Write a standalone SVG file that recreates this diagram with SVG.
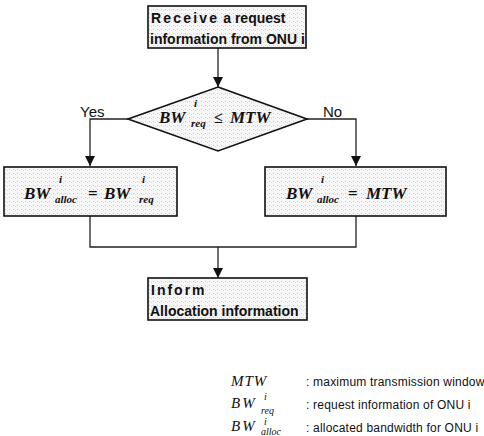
<svg xmlns="http://www.w3.org/2000/svg" width="484" height="436" viewBox="0 0 484 436">
<style>
.box{fill:url(#dots);stroke:#111;stroke-width:1.6}
.dia{fill:url(#dots);stroke:#111;stroke-width:1.6}
.line{fill:none;stroke:#222;stroke-width:1.3}
.sans{font-family:"Liberation Sans",Arial,sans-serif;fill:#111}
.math{font-family:"Liberation Serif","Times New Roman",serif;font-style:italic;font-weight:bold;fill:#111;font-size:17px}
.s{font-size:11px}
.op{font-style:normal}
.leg{font-family:"Liberation Serif","Times New Roman",serif;font-style:italic;fill:#111;font-size:15px}
.ls{font-size:10px;letter-spacing:0}
.ltxt{font-family:"Liberation Sans",Arial,sans-serif;font-size:12px;letter-spacing:0.2px;fill:#111}
</style>
<defs>
<pattern id="dots" width="4" height="4" patternUnits="userSpaceOnUse">
<rect width="4" height="4" fill="#f6f6f6"/>
<rect x="1" y="1" width="1" height="1" fill="#c8c8c8"/>
<rect x="3" y="2" width="1" height="1" fill="#dddddd"/>
</pattern>
<marker id="arr" markerWidth="10" markerHeight="11" refX="10" refY="5" orient="auto" markerUnits="userSpaceOnUse">
<path d="M0,0 L10,5 L0,10 Z" fill="#111"/>
</marker>
</defs>

<g id="connectors">
<line class="line" x1="218" y1="48" x2="218" y2="87" marker-end="url(#arr)"/>
<polyline class="line" points="128,119 90,119 90,166" marker-end="url(#arr)"/>
<polyline class="line" points="307,119 356,119 356,166" marker-end="url(#arr)"/>
<polyline class="line" points="90,216 90,247 356,247 356,216"/>
<line class="line" x1="218" y1="247" x2="218" y2="278" marker-end="url(#arr)"/>
<text class="sans" x="80" y="117" font-size="15">Yes</text>
<text class="sans" x="323" y="117" font-size="15">No</text>
</g>

<g id="receive">
<rect class="box" x="148" y="6" width="158" height="42"/>
<text class="sans" x="151" y="23" font-size="14" font-weight="bold"><tspan font-weight="900" letter-spacing="2.2">Receive</tspan> a request</text>
<text class="sans" x="150" y="44" font-size="14" font-weight="bold">information from ONU i</text>
</g>

<g id="decision">
<polygon class="dia" points="218,87 307,119 218,151 128,119"/>
<text class="math"><tspan x="159" y="123">BW</tspan><tspan class="s" x="194" y="107">i</tspan><tspan class="s" x="191" y="127">req</tspan><tspan class="op" x="214" y="123" font-size="16">≤</tspan><tspan x="230" y="123">MTW</tspan></text>
</g>

<g id="alloc-req">
<rect class="box" x="4" y="167" width="173" height="49"/>
<text class="math"><tspan x="24" y="199">BW</tspan><tspan class="s" x="59" y="183">i</tspan><tspan class="s" x="55" y="203">alloc</tspan><tspan class="op" x="88" y="199">=</tspan><tspan x="104" y="199">BW</tspan><tspan class="s" x="142" y="183">i</tspan><tspan class="s" x="139" y="203">req</tspan></text>
</g>

<g id="alloc-mtw">
<rect class="box" x="265" y="167" width="181" height="49"/>
<text class="math"><tspan x="286" y="199">BW</tspan><tspan class="s" x="321" y="183">i</tspan><tspan class="s" x="317" y="203">alloc</tspan><tspan class="op" x="348" y="199">=</tspan><tspan x="366" y="199">MTW</tspan></text>
</g>

<g id="inform">
<rect class="box" x="148" y="278" width="159" height="42"/>
<text class="sans" x="151" y="295" font-size="14" font-weight="900" letter-spacing="2">Inform</text>
<text class="sans" x="150" y="316" font-size="14" font-weight="bold">Allocation information</text>
</g>

<g id="legend">
<text class="leg" x="231" y="386" letter-spacing="1">MTW</text>
<text class="ltxt" x="306" y="386">: maximum transmission window</text>
<text class="leg" letter-spacing="2"><tspan x="231" y="408">BW</tspan><tspan class="ls" x="264" y="399.5">i</tspan><tspan class="ls" x="261" y="414">req</tspan></text>
<text class="ltxt" x="306" y="409">: request information of ONU i</text>
<text class="leg" letter-spacing="2"><tspan x="231" y="431">BW</tspan><tspan class="ls" x="264" y="425">i</tspan><tspan class="ls" x="261" y="435">alloc</tspan></text>
<text class="ltxt" x="306" y="432">: allocated bandwidth for ONU i</text>
</g>
</svg>
